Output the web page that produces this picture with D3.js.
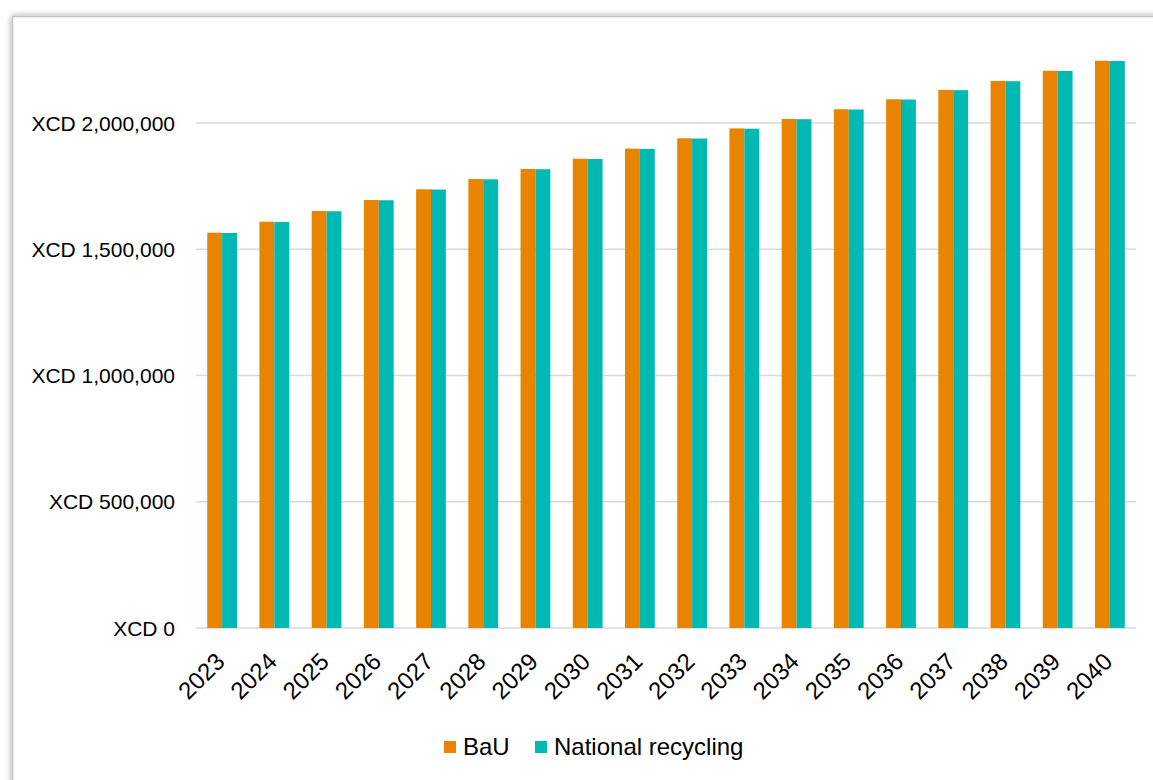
<!DOCTYPE html>
<html><head><meta charset="utf-8">
<script src="https://cdn.jsdelivr.net/npm/d3@7"></script>
<style>body{margin:0;background:#fff;}svg{display:block;font-family:"Liberation Sans",Arial,sans-serif;}</style>
</head><body>
<svg id="c" width="1153" height="780"></svg>
<script>
const years = ["2023","2024","2025","2026","2027","2028","2029","2030","2031","2032","2033","2034","2035","2036","2037","2038","2039","2040"];
const bau = [1565500,1609000,1651500,1695000,1737500,1778000,1818000,1858500,1898500,1939500,1978500,2016000,2054500,2094000,2131000,2166500,2207000,2246500];
const recycling = [1564500,1608000,1650500,1694000,1736500,1777000,1817000,1857500,1897500,1938500,1977500,2015000,2053500,2093000,2130000,2165500,2206000,2245500];
const yTicks = [0,500000,1000000,1500000,2000000];
const seriesNames = ["BaU","National recycling"];
const colors = ["#E98400","#00B9B3"];

const svg = d3.select("#c");
const defs = svg.append("defs");
const f = defs.append("filter").attr("id","sh").attr("x","-5%").attr("y","-5%").attr("width","120%").attr("height","120%");
f.append("feGaussianBlur").attr("in","SourceAlpha").attr("stdDeviation",3);
f.append("feOffset").attr("dx",0).attr("dy",0).attr("result","b");
f.append("feComponentTransfer").append("feFuncA").attr("type","linear").attr("slope",0.4);
const m = f.append("feMerge"); m.append("feMergeNode"); m.append("feMergeNode").attr("in","SourceGraphic");

svg.append("rect").attr("x",12.5).attr("y",16.5).attr("width",1200).attr("height",820)
  .attr("fill","#fff").attr("stroke","#c4c4c4").attr("stroke-width",1.5).attr("filter","url(#sh)");

const pLeft=196, pRight=1136, pBottom=628;
const y = d3.scaleLinear().domain([0,2250000]).range([pBottom, pBottom - 2250000/500000*126.25]);
const x = d3.scaleBand().domain(years).range([pLeft,pRight]).paddingInner(0.43).paddingOuter(0.215);
const x1 = d3.scaleBand().domain(seriesNames).range([0,x.bandwidth()]);

// gridlines
svg.append("g").selectAll("line").data(yTicks).join("line")
  .attr("x1",pLeft).attr("x2",pRight).attr("y1",d=>y(d)).attr("y2",d=>y(d))
  .attr("stroke","#d9d9d9").attr("stroke-width",1.3);

// y labels
const fmt = d3.format(",");
svg.append("g").selectAll("text").data(yTicks).join("text")
  .attr("x",175).attr("y",d=>y(d)).attr("dy","0.36em").attr("text-anchor","end")
  .attr("font-size",21).attr("fill","#000").text(d=>"XCD "+fmt(d));

// bars
const data = [bau, recycling];
data.forEach((vals,si)=>{
  svg.append("g").selectAll("rect").data(vals).join("rect")
    .attr("x",(d,i)=>x(years[i])+x1(seriesNames[si]))
    .attr("width",x1.bandwidth())
    .attr("y",d=>y(d)).attr("height",d=>y(0)-y(d))
    .attr("fill",colors[si]);
});

// x labels
svg.append("g").selectAll("text").data(years).join("text")
  .attr("transform",d=>`translate(${x(d)+x.bandwidth()/2+4},${pBottom+35}) rotate(-45)`)
  .attr("text-anchor","end").attr("font-size",24).attr("fill","#000").text(d=>d);

// legend
const lg = svg.append("g");
const lx = [444,535];
seriesNames.forEach((n,i)=>{
  lg.append("rect").attr("x",lx[i]).attr("y",741).attr("width",12).attr("height",12).attr("fill",colors[i]);
  lg.append("text").attr("x",lx[i]+19).attr("y",755).attr("font-size",24).attr("fill","#000").text(n);
});
</script>
</body></html>
